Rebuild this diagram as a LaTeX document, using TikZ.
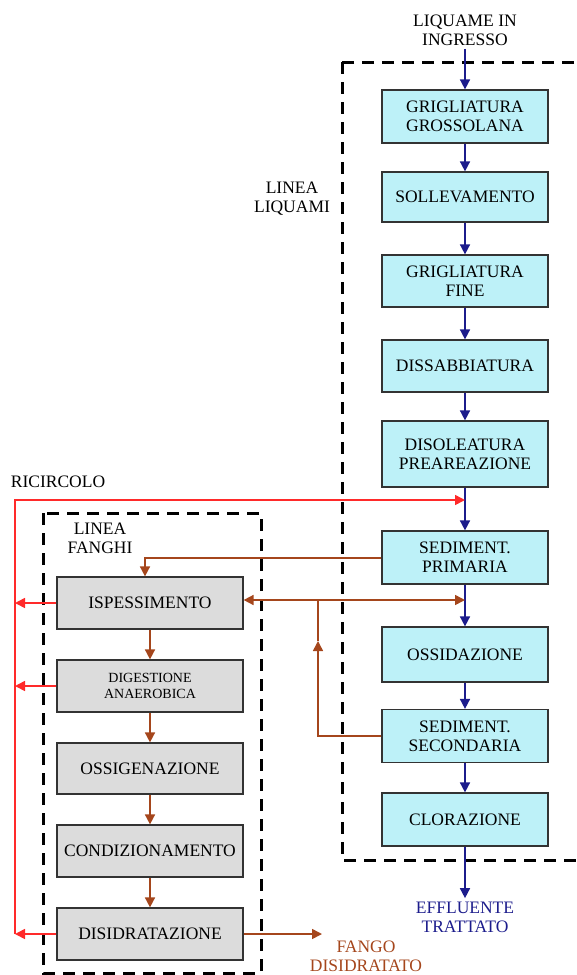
\documentclass[tikz,border=0pt]{standalone}
\usepackage{fontspec}
\setmainfont{Liberation Serif}
\usepackage{xcolor}
\usepackage{tikz}
\usetikzlibrary{arrows.meta, positioning}

\definecolor{liqfill}{HTML}{BDF1F8}
\definecolor{fanfill}{HTML}{DCDCDC}
\definecolor{navyline}{HTML}{1C1C8C}
\definecolor{sludgeline}{HTML}{A5461C}
\definecolor{ricred}{HTML}{FF2A2A}

\begin{document}
\begin{tikzpicture}[x=1pt, y=1pt, font=\fontsize{17.5}{19}\selectfont]
        \tikzstyle{liq} = [rectangle, draw=black!80, fill=liqfill, line width=1.2pt, minimum width=166pt, minimum height=53pt, align=center, inner sep=2pt]
        \tikzstyle{fan} = [liq, fill=fanfill, minimum width=186pt, minimum height=52pt]
        \tikzstyle{water} = [draw=navyline, line width=1.6pt, -{Triangle[length=10pt, width=10pt]}]
        \tikzstyle{sludge} = [draw=sludgeline, line width=1.6pt, -{Triangle[length=10pt, width=10pt]}]
        \tikzstyle{recycle} = [draw=ricred, line width=1.6pt, -{Triangle[length=10pt, width=10pt]}]
        \tikzstyle{area} = [draw=black, line width=3pt, dash pattern=on 12pt off 8pt]

        \useasboundingbox (0,0) rectangle (577,-975);

        % linea liquami
        \draw [area] (342,-62) rectangle (600,-860);
        \node [liq] (gg) at (465,-116.5) {GRIGLIATURA\\GROSSOLANA};
        \node [liq, minimum height=50pt] (soll) at (465,-197) {SOLLEVAMENTO};
        \node [liq, minimum height=52pt] (gf) at (465,-281) {GRIGLIATURA\\FINE};
        \node [liq, minimum height=52pt] (dis) at (465,-366) {DISSABBIATURA};
        \node [liq, minimum height=66pt] (dp) at (465,-454) {DISOLEATURA\\PREAREAZIONE};
        \node [liq] (sp) at (465,-557.5) {SEDIMENT.\\PRIMARIA};
        \node [liq, minimum height=55pt] (oss) at (465,-654.5) {OSSIDAZIONE};
        \node [liq] (ss) at (465,-736) {SEDIMENT.\\SECONDARIA};
        \node [liq] (clor) at (465,-819.5) {CLORAZIONE};

        \node [align=center] (ingresso) at (465,-30) {LIQUAME IN\\INGRESSO};
        \node [align=center] (lliq) at (292,-199) {LINEA\\LIQUAMI};
        \node [align=center, text=navyline] (eff) at (465,-917) {EFFLUENTE\\TRATTATO};

        % linea fanghi
        \draw [area] (43,-513) rectangle (261,-973);
        \node [fan] (isp) at (150,-603) {ISPESSIMENTO};
        \node [fan, font=\fontsize{14}{16.5}\selectfont] (dig) at (150,-686) {DIGESTIONE\\ANAEROBICA};
        \node [fan, minimum height=51pt] (ossig) at (150,-768.5) {OSSIGENAZIONE};
        \node [fan] (cond) at (150,-851) {CONDIZIONAMENTO};
        \node [fan] (disid) at (150,-934) {DISIDRATAZIONE};

        \node [align=center] (lfan) at (100,-538) {LINEA\\FANGHI};
        \node (ric) at (58,-482) {RICIRCOLO};
        \node [align=center, text=sludgeline] (fango) at (366,-956) {FANGO\\DISIDRATATO};

        \coordinate (rtop) at (15,-500);
        \coordinate (rin) at (465,-500);
        \coordinate (junc) at (318,-600);
        \coordinate (mid) at (318,-641);
        \coordinate (fout) at (322,-933);
        \coordinate (fdrop) at (145,-558);

        \path [water] (ingresso) -- (gg);
        \path [water] (gg) -- (soll);
        \path [water] (soll) -- (gf);
        \path [water] (gf) -- (dis);
        \path [water] (dis) -- (dp);
        \path [water] (dp) -- (sp);
        \path [water] (sp) -- (oss);
        \path [water] (oss) -- (ss);
        \path [water] (ss) -- (clor);
        \path [water] (clor) -- (eff);

        \path [sludge] (sp.west |- fdrop) -- (fdrop) -- (fdrop |- isp.north);
        \path [sludge] (junc) -- (junc -| isp.east);
        \path [sludge] (junc) -- (junc -| sp.south);
        \path [sludge] (ss.west) -| (mid);
        \draw [sludgeline, line width=1.6pt] (mid) -- (junc);
        \path [sludge] (isp) -- (dig);
        \path [sludge] (dig) -- (ossig);
        \path [sludge] (ossig) -- (cond);
        \path [sludge] (cond) -- (disid);
        \path [sludge] (disid.east) -- (disid.east -| fout);

        \path [recycle] (disid.west -| rtop) -- (rtop) -- (rin);
        \path [recycle] (isp.west) -- (isp.west -| rtop);
        \path [recycle] (dig.west) -- (dig.west -| rtop);
        \path [recycle] (disid.west) -- (disid.west -| rtop);
\end{tikzpicture}
\end{document}
